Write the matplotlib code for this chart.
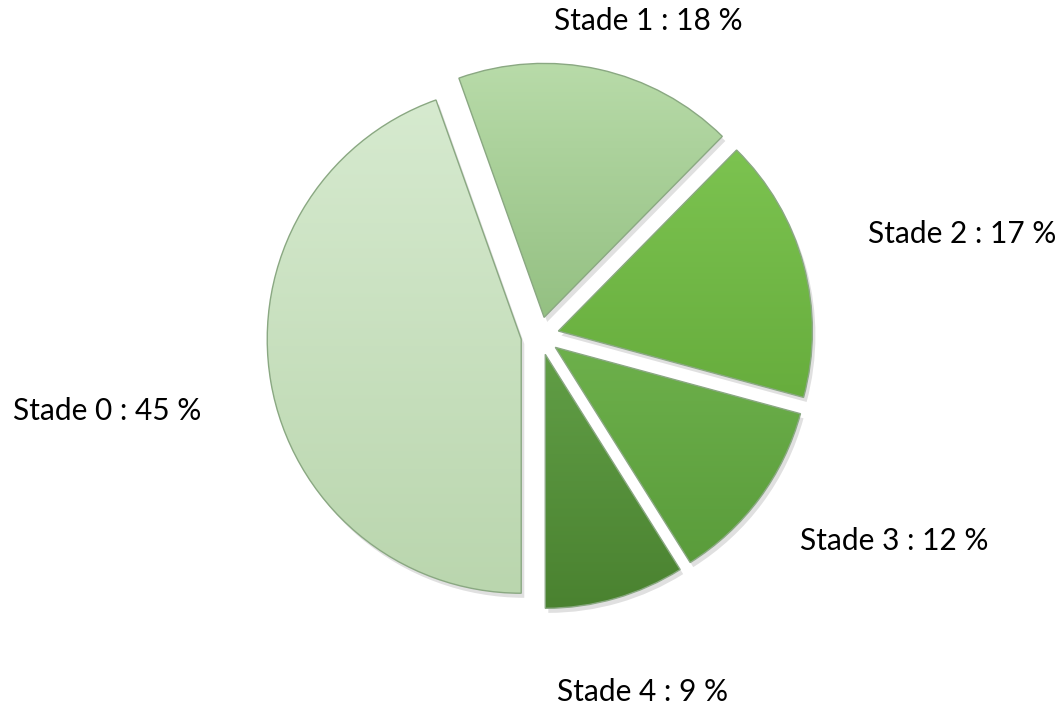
import numpy as np
import matplotlib
matplotlib.use("Agg")
import matplotlib.pyplot as plt
from matplotlib.colors import to_rgb

# data
stades = ["Stade 0", "Stade 1", "Stade 2", "Stade 3", "Stade 4"]
percents = [45, 18, 17, 12, 9]
top_colors = ["#d6eacf", "#b8dba9", "#7cc350", "#6db04b", "#619e46"]
bottom_colors = ["#bad6ae", "#94c082", "#67ad3d", "#5a9c3b", "#4a8230"]

# label placement (distance from centre in radii, angle tweak in degrees)
label_dist = [1.73, 1.31, 1.71, 1.61, 1.46]
label_shift = [0, -6.5, -1.5, 6.5, 0]


def gradient_fill(ax, wedge, c_top, c_bot):
  x0, y0, x1, y1 = wedge.get_path().get_extents().extents
  t = np.linspace(0, 1, 256)[:, None]
  top = np.array(to_rgb(c_top))
  bot = np.array(to_rgb(c_bot))
  img = (bot * (1 - t) + top * t)[:, None, :]
  im = ax.imshow(img, extent=(x0, x1, y0, y1), origin="lower",
                 aspect="auto", interpolation="bilinear", zorder=2)
  im.set_clip_path(wedge)


def main():
  fig = plt.figure(figsize=(10.64, 7.07), dpi=100)
  ax = fig.add_axes([0, 0, 1, 1])

  wedges, _ = ax.pie(percents, startangle=270, counterclock=False,
                     explode=[0.075] * len(percents), radius=1.0,
                     colors=bottom_colors,
                     wedgeprops=dict(linewidth=1.0, edgecolor="#8aa882"))

  for w, ct, cb in zip(wedges, top_colors, bottom_colors):
    # soft shadow
    sh = matplotlib.patches.Wedge((w.center[0] + 0.012, w.center[1] - 0.018),
                                  w.r, w.theta1, w.theta2,
                                  facecolor="#000000", alpha=0.12,
                                  edgecolor="none", zorder=0.5)
    ax.add_patch(sh)
    gradient_fill(ax, w, ct, cb)
    w.set_zorder(2.5)
    w.set_facecolor("none")

  for i, w in enumerate(wedges):
    ang = np.deg2rad((w.theta1 + w.theta2) / 2 + label_shift[i])
    x = label_dist[i] * np.cos(ang)
    y = label_dist[i] * np.sin(ang)
    ax.text(x, y, f"{stades[i]} : {percents[i]} %", ha="center", va="center",
            fontsize=21.5, family=["Lato", "DejaVu Sans"], color="#000000")

  # centre at (540, 336) px, radius 254 px
  r_px = 254.0
  ax.set_xlim(-540 / r_px, (1064 - 540) / r_px)
  ax.set_ylim(-(707 - 336) / r_px, 336 / r_px)
  ax.set_aspect("equal")
  ax.axis("off")

  fig.savefig("out.png", dpi=100, facecolor="white")


if __name__ == "__main__":
  main()
